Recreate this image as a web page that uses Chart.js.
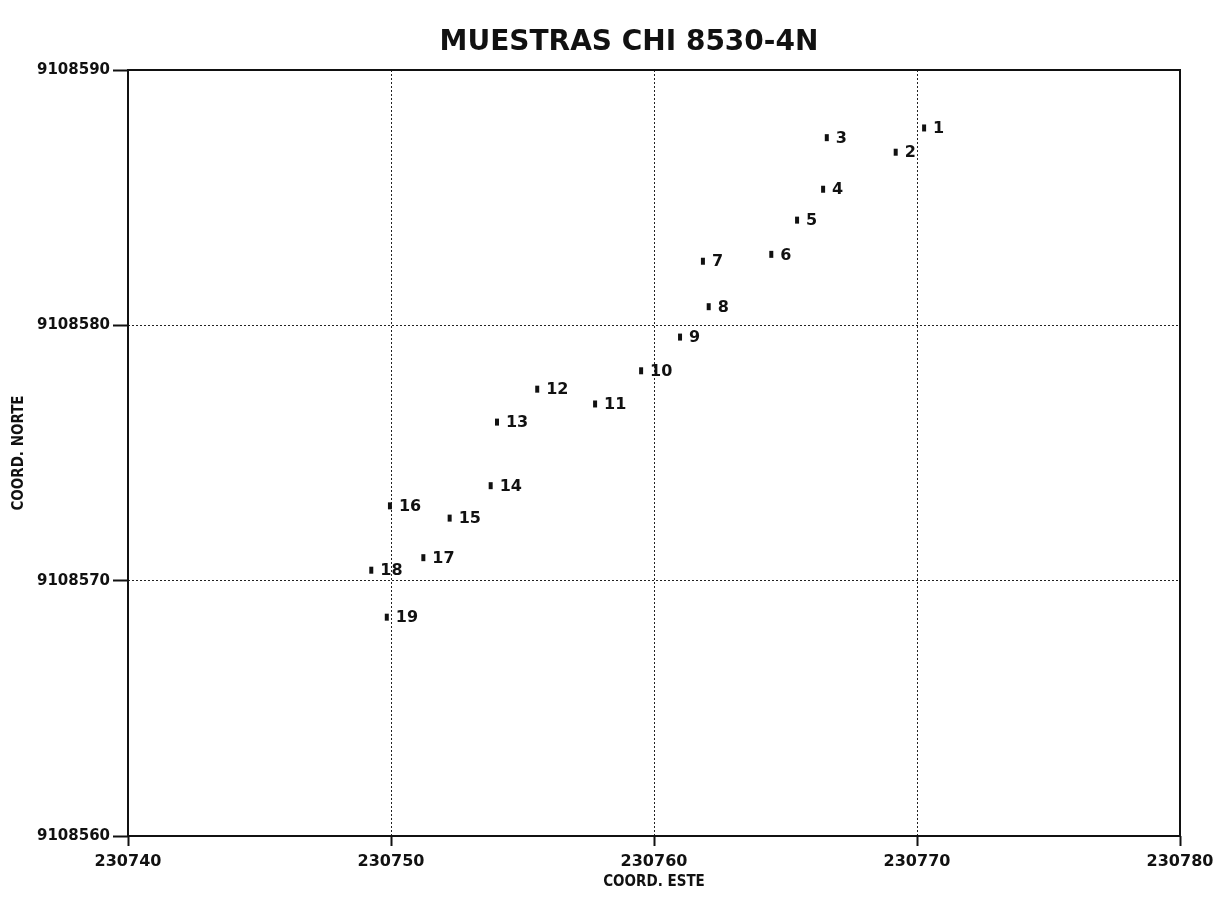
<!DOCTYPE html>
<html>
<head>
<meta charset="utf-8">
<script src="https://cdn.jsdelivr.net/npm/chart.js@4"></script>
<style>
  body { margin: 0; background: #fff; }
</style>
</head>
<body>
<canvas id="grafico" width="1216" height="899"></canvas>
<script>
// muestras (numero, coord. este, coord. norte)
const muestras = ['1','2','3','4','5','6','7','8','9','10','11','12','13','14','15','16','17','18','19'];
const este = [230770.27, 230769.19, 230766.57, 230766.43, 230765.44, 230764.46, 230761.86, 230762.08, 230760.99, 230759.51,
              230757.76, 230755.56, 230754.03, 230753.79, 230752.23, 230749.96, 230751.23, 230749.25, 230749.84];
const norte = [9108587.73, 9108586.78, 9108587.35, 9108585.33, 9108584.12, 9108582.78, 9108582.51, 9108580.73, 9108579.54, 9108578.22,
               9108576.92, 9108577.50, 9108576.21, 9108573.72, 9108572.45, 9108572.93, 9108570.90, 9108570.41, 9108568.57];
const ticksEste = [230740, 230750, 230760, 230770, 230780];
const ticksNorte = [9108560, 9108570, 9108580, 9108590];

const titulo = 'MUESTRAS CHI 8530-4N';

let puntos = este.map((x, i) => ({ x: x, y: norte[i] }));

// titulo, marco y numeros de muestra
const extras = {
  id: 'extras',
  afterDraw(chart) {
    const ctx = chart.ctx;
    const a = chart.chartArea;
    ctx.save();
    ctx.strokeStyle = '#111';
    ctx.lineWidth = 2;
    ctx.setLineDash([]);
    ctx.strokeRect(a.left, a.top, a.right - a.left, a.bottom - a.top);

    ctx.fillStyle = '#111';
    ctx.font = 'bold 28px "DejaVu Sans"';
    ctx.textAlign = 'center';
    ctx.textBaseline = 'alphabetic';
    ctx.fillText(titulo, 629, 50);

    const sx = chart.scales.x, sy = chart.scales.y;
    ctx.font = 'bold 16px "DejaVu Sans"';
    ctx.textAlign = 'left';
    ctx.textBaseline = 'middle';
    muestras.forEach((m, i) => {
      ctx.fillText(m, sx.getPixelForValue(este[i]) + 9, sy.getPixelForValue(norte[i]) + 1);
    });
    ctx.restore();
  }
};

let ctx = document.getElementById('grafico').getContext('2d');

let grafico = new Chart(ctx, {
  type: 'scatter',
  data: {
    datasets: [{
      data: puntos,
      pointStyle: 'line',
      rotation: 90,
      radius: 3.5,
      borderWidth: 4,
      borderColor: '#111',
      backgroundColor: '#111'
    }]
  },
  options: {
    responsive: false,
    animation: false,
    layout: { padding: { top: 70, right: 36, left: 0, bottom: 0 } },
    plugins: {
      legend: { display: false },
      tooltip: { enabled: false }
    },
    scales: {
      x: {
        type: 'linear',
        min: 230740,
        max: 230780,
        afterBuildTicks: s => { s.ticks = ticksEste.map(v => ({ value: v })); },
        afterFit: s => { s.height = 63; s.paddingLeft = 0; s.paddingRight = 0; },
        border: { display: false, dash: [2, 2] },
        grid: { color: '#222', lineWidth: 1, tickLength: 10, tickColor: '#111', tickWidth: 2 },
        ticks: {
          color: '#111',
          padding: 6,
          maxRotation: 0,
          font: { family: 'DejaVu Sans', weight: 'bold', size: 16 },
          callback: v => String(v)
        },
        title: {
          display: true,
          text: 'COORD. ESTE',
          color: '#111',
          padding: { top: 0, bottom: 8 },
          font: { family: 'DejaVu Sans Condensed', weight: 'bold', size: 15 }
        }
      },
      y: {
        type: 'linear',
        min: 9108560,
        max: 9108590,
        afterBuildTicks: s => { s.ticks = ticksNorte.map(v => ({ value: v })); },
        afterFit: s => { s.width = 128; s.paddingTop = 0; s.paddingBottom = 0; },
        border: { display: false, dash: [2, 2] },
        grid: { color: '#222', lineWidth: 1, tickLength: 15, tickColor: '#111', tickWidth: 2 },
        ticks: {
          color: '#111',
          padding: 3,
          font: { family: 'DejaVu Sans', weight: 'bold', size: 15 },
          callback: v => String(v)
        },
        title: {
          display: true,
          text: 'COORD. NORTE',
          color: '#111',
          padding: { top: 10, bottom: 0 },
          font: { family: 'DejaVu Sans Condensed', weight: 'bold', size: 15 }
        }
      }
    }
  },
  plugins: [extras]
});
</script>
</body>
</html>
